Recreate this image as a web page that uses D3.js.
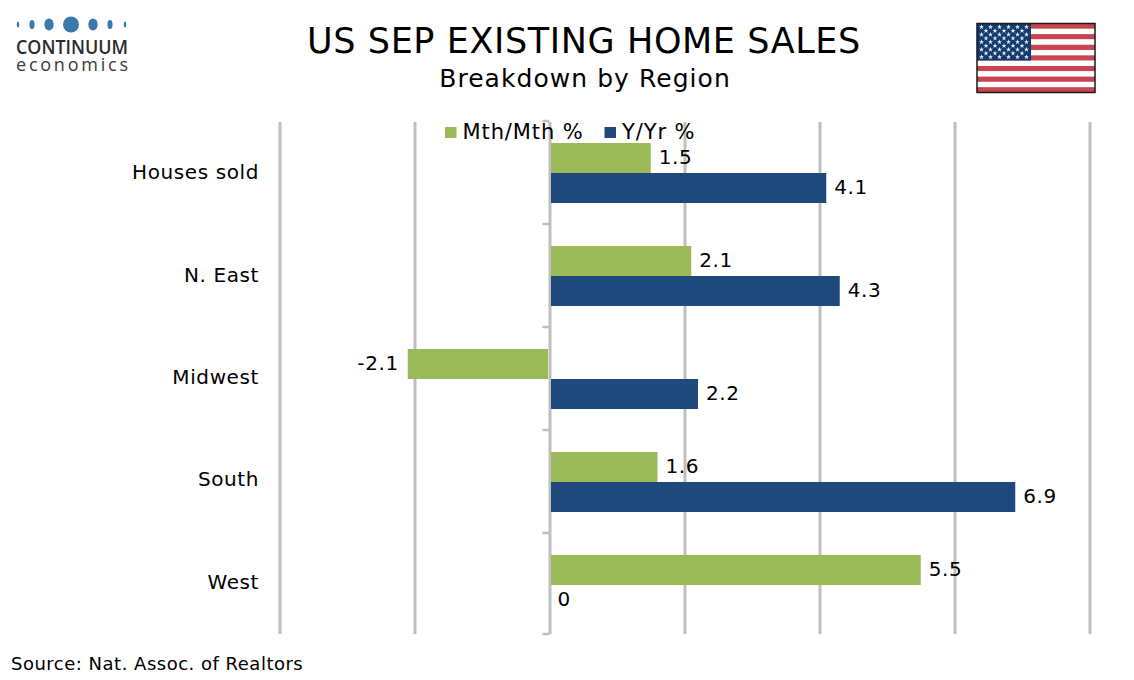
<!DOCTYPE html>
<html lang="en">
<head>
<meta charset="UTF-8"/>
<title>US Sep Existing Home Sales</title>
<script src="https://d3js.org/d3.v7.min.js"></script>
<style>
    html, body { margin: 0; padding: 0; background: #fff; }
    svg { display: block; }
    text { font-family: "DejaVu Sans", Verdana, sans-serif; fill: #000; }
</style>
</head>
<body>
<div id="chart"></div>
<script>
    var w = 1134;
    var h = 680;

    var categories = ["Houses sold", "N. East", "Midwest", "South", "West"];
    var mthMth = [1.5, 2.1, -2.1, 1.6, 5.5];
    var yYr = [4.1, 4.3, 2.2, 6.9, 0];
    var seriesNames = ["Mth/Mth %", "Y/Yr %"];
    var xTicks = [-4, -2, 0, 2, 4, 6, 8];

    var green = "#9bbb59";
    var navy = "#1f497d";
    var grid = "#bfbfbf";

    var svg = d3.select("#chart").append("svg")
        .attr("width", w)
        .attr("height", h);

    var x = d3.scaleLinear().domain([-4, 8]).range([279.5, 1089.5]);
    var y = d3.scaleBand().domain(categories).range([121, 636]);
    var inner = d3.scaleBand().domain(seriesNames).range([22, 82]);

    // vertical gridlines
    var xAxis = d3.axisBottom(x).tickValues(xTicks).tickSize(-512).tickFormat("");
    var gx = svg.append("g").attr("transform", "translate(0,634)").call(xAxis);
    gx.select(".domain").remove();
    gx.selectAll("line").attr("stroke", grid).attr("stroke-width", 3);

    // zero axis with ticks at the category boundaries
    var boundaries = d3.range(categories.length + 1).map(function(i) {
        return Math.min(121 + i * y.step(), 634);
    });
    svg.selectAll(".cat-tick")
        .data(boundaries)
        .enter()
        .append("line")
        .attr("class", "cat-tick")
        .attr("x1", x(0) - 7)
        .attr("x2", x(0))
        .attr("y1", function(d) { return d; })
        .attr("y2", function(d) { return d; })
        .attr("stroke", grid)
        .attr("stroke-width", 2.5);

    // bars and value labels
    var series = [
        { name: seriesNames[0], values: mthMth, color: green },
        { name: seriesNames[1], values: yYr, color: navy }
    ];

    series.forEach(function(s) {
        svg.selectAll(".bar-" + s.color.slice(1))
            .data(s.values)
            .enter()
            .append("rect")
            .attr("x", function(d) { return d < 0 ? x(d) : x(0) + 1.5; })
            .attr("y", function(d, i) { return y(categories[i]) + inner(s.name); })
            .attr("width", function(d) { return Math.max(0, Math.abs(x(d) - x(0)) - 1.5); })
            .attr("height", inner.bandwidth())
            .attr("fill", s.color);

        svg.selectAll(".lab-" + s.color.slice(1))
            .data(s.values)
            .enter()
            .append("text")
            .attr("x", function(d) { return d < 0 ? x(d) - 9 : x(d) + 8; })
            .attr("y", function(d, i) { return y(categories[i]) + inner(s.name) + inner.bandwidth() / 2 + 6; })
            .attr("text-anchor", function(d) { return d < 0 ? "end" : "start"; })
            .attr("font-size", 20)
            .attr("letter-spacing", 0.6)
            .text(function(d) { return d; });
    });

    // category labels sit midway between the gridline ends
    var labelY = d3.scaleBand().domain(categories).range([122, 634]);
    svg.selectAll(".cat")
        .data(categories)
        .enter()
        .append("text")
        .attr("class", "cat")
        .attr("x", 259)
        .attr("y", function(d) { return labelY(d) + labelY.bandwidth() / 2 + 6; })
        .attr("text-anchor", "end")
        .attr("font-size", 20)
        .attr("letter-spacing", 0.6)
        .text(function(d) { return d; });

    // legend
    var legend = svg.selectAll(".legend")
        .data(series)
        .enter()
        .append("g")
        .attr("transform", function(d, i) { return "translate(" + [445, 604.5][i] + ",127)"; });
    legend.append("rect")
        .attr("width", 11.5)
        .attr("height", 11)
        .attr("fill", function(d) { return d.color; });
    legend.append("text")
        .attr("x", 17.5)
        .attr("y", 12)
        .attr("font-size", 21)
        .attr("letter-spacing", 0.9)
        .text(function(d) { return d.name; });

    // titles and source
    svg.append("text")
        .attr("x", 584).attr("y", 53)
        .attr("text-anchor", "middle")
        .attr("font-size", 35)
        .attr("letter-spacing", 0.6)
        .text("US SEP EXISTING HOME SALES");
    svg.append("text")
        .attr("x", 585).attr("y", 87)
        .attr("text-anchor", "middle")
        .attr("font-size", 25)
        .attr("letter-spacing", 1.05)
        .text("Breakdown by Region");
    svg.append("text")
        .attr("x", 11).attr("y", 670)
        .attr("font-size", 18)
        .attr("letter-spacing", 0.5)
        .text("Source: Nat. Assoc. of Realtors");

    // logo
    var logoDots = [[18, 1.5], [32, 3], [49, 5.5], [71, 8], [93, 5.5], [110, 3], [125, 1.5]];
    var logo = svg.append("g");
    logo.selectAll("ellipse")
        .data(logoDots)
        .enter()
        .append("ellipse")
        .attr("cx", function(d) { return d[0]; })
        .attr("cy", 24.5)
        .attr("rx", function(d) { return d[1] * (d[1] < 8 ? 0.85 : 1); })
        .attr("ry", function(d) { return d[1] < 2 ? 3 : d[1] < 4 ? 4.5 : d[1] < 7 ? 6 : 8; })
        .attr("fill", "#3a78ae");
    logo.append("text")
        .attr("x", 16).attr("y", 54)
        .attr("font-size", 19.5)
        .attr("font-weight", 600)
        .attr("textLength", 112)
        .attr("lengthAdjust", "spacingAndGlyphs")
        .style("font-family", "'Open Sans', sans-serif")
        .style("fill", "#2b2b2b")
        .text("CONTINUUM");
    logo.append("text")
        .attr("x", 16).attr("y", 71)
        .attr("font-size", 18)
        .attr("textLength", 112)
        .style("font-family", "'Open Sans', sans-serif")
        .style("fill", "#3a3a3a")
        .text("economics");

    // flag
    var flagX = 977, flagY = 23.5, flagW = 118, flagH = 69;
    var flag = svg.append("g");
    var stripes = d3.range(13);
    var stripeY = d3.scaleBand().domain(stripes).range([flagY, flagY + flagH]);
    flag.selectAll(".stripe")
        .data(stripes)
        .enter()
        .append("rect")
        .attr("class", "stripe")
        .attr("x", flagX)
        .attr("y", function(d) { return stripeY(d); })
        .attr("width", flagW)
        .attr("height", stripeY.bandwidth())
        .attr("fill", function(d) { return d % 2 ? "#fff" : "#c8444f"; });
    flag.append("rect")
        .attr("x", flagX).attr("y", flagY)
        .attr("width", 54).attr("height", 37)
        .attr("fill", "#123a6e");
    var stars = [];
    d3.range(9).forEach(function(r) {
        var odd = r % 2 === 1;
        d3.range(odd ? 5 : 6).forEach(function(c) {
            stars.push([flagX + 4.5 + c * 9 + (odd ? 4.5 : 0), flagY + 3.5 + r * 3.75]);
        });
    });
    flag.selectAll(".star")
        .data(stars)
        .enter()
        .append("path")
        .attr("class", "star")
        .attr("d", d3.symbol().type(d3.symbolStar).size(8))
        .attr("transform", function(d) { return "translate(" + d[0] + "," + d[1] + ")"; })
        .attr("fill", "#e8f0f5");
    flag.append("rect")
        .attr("x", flagX).attr("y", flagY)
        .attr("width", flagW).attr("height", flagH)
        .attr("fill", "none")
        .attr("stroke", "#1a1a1a")
        .attr("stroke-width", 1.5);
</script>
</body>
</html>
